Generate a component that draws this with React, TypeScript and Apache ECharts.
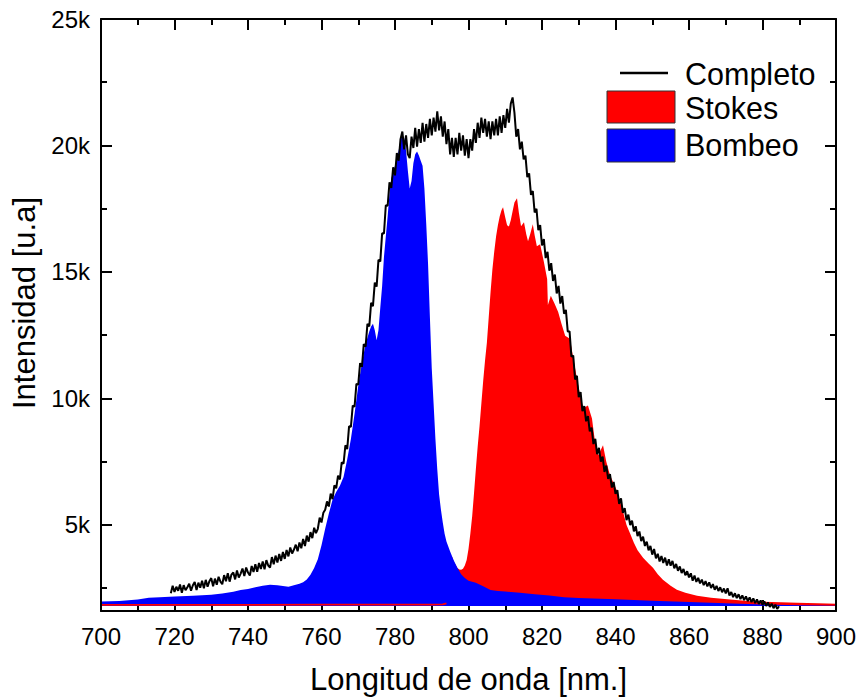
import React, { useEffect, useRef } from "react";
import * as echarts from "echarts";

// ---- Data ----
// Completo: black noisy spectrum, sampled every 0.5 nm starting at 719 nm
const completoStart = 719;
const completoStep = 0.5;
const completoValues = [
  // 719 - 728.5
  2300, 2600, 2350, 2560, 2400, 2650, 2320, 2620, 2420, 2540, 2680, 2400, 2620, 2750, 2430, 2720, 2520, 2800, 2500, 2830,
  // 729 - 738.5
  2560, 2780, 2900, 2580, 2880, 2640, 2950, 2760, 2660, 3020, 2780, 3090, 2760, 3040, 3120, 2850, 3200, 2920, 3080, 3280,
  // 739 - 748.5
  2980, 3320, 3120, 3000, 3380, 3140, 3450, 3150, 3500, 3260, 3560, 3250, 3610, 3400, 3320, 3730, 3450, 3790, 3520, 3850,
  // 749 - 758.5
  3580, 3930, 3660, 4010, 3760, 4110, 3870, 4030, 4220, 3960, 4310, 4080, 4450, 4170, 4580, 4340, 4720, 4480, 4890, 4680,
  // 759 - 768.5
  4850, 5290, 5100, 5480, 5600, 5930, 5730, 6240, 6020, 6570, 6450, 6950, 6800, 7480, 7420, 8150, 8000, 8900, 8880, 9720,
  // 769 - 778.5
  9680, 10580, 10550, 11400, 11250, 12150, 12050, 12950, 12850, 13780, 13650, 14580, 14420, 15480, 15420, 16530, 16520, 17640, 17620, 18540,
  // 779 - 788.5
  18320, 19140, 18820, 19700, 19400, 20250, 20550, 19850, 20400, 19650, 19500, 20350, 19900, 20700, 19950, 20650, 20100, 20900, 20150, 20850,
  // 789 - 798.5
  20300, 21050, 20400, 21100, 20550, 21350, 20600, 21150, 20350, 20950, 20050, 20650, 19650, 20300, 19550, 20300, 19650, 20500, 19800, 20400,
  // 799 - 808.5
  19600, 20250, 19500, 20250, 19800, 20650, 20100, 20900, 20300, 21100, 20500, 21050, 20350, 20950, 20250, 20950, 20400, 21050, 20400, 21150,
  // 809 - 818.5
  20500, 21200, 20700, 21450, 20900, 21650, 21900, 21300, 20350, 20650, 19850, 20150, 19450, 19600, 18750, 18900, 18050, 18200, 17350, 17500,
  // 819 - 828.5
  16650, 16850, 16050, 16300, 15550, 15800, 15050, 15350, 14650, 14900, 14150, 14450, 13750, 14050, 13350, 13500, 12650, 12650, 11650, 11700,
  // 829 - 838.5
  10750, 10900, 10050, 10250, 9500, 9700, 9100, 9300, 8700, 8850, 8200, 8400, 7800, 8050, 7500, 7700, 7100, 7350, 6820, 7010,
  // 839 - 848.5
  6480, 6700, 6230, 6380, 5830, 6050, 5480, 5670, 5190, 5410, 5000, 5170, 4750, 4950, 4560, 4740, 4360, 4540, 4170, 4340,
  // 849 - 858.5
  4000, 4170, 3830, 4050, 3680, 3860, 3560, 3770, 3500, 3710, 3400, 3640, 3390, 3580, 3290, 3460, 3190, 3360, 3100, 3260,
  // 859 - 868.5
  3010, 3170, 2930, 3090, 2800, 3000, 2750, 2910, 2690, 2840, 2620, 2780, 2570, 2730, 2510, 2660, 2440, 2590, 2390, 2540,
  // 869 - 878.5
  2340, 2490, 2300, 2500, 2210, 2350, 2150, 2300, 2110, 2260, 2070, 2220, 2030, 2180, 1990, 2140, 1950, 2100, 1910, 2060,
  // 879 - 884.5
  1880, 2020, 1840, 1980, 1800, 1940, 1760, 1890, 1710, 1850, 1680, 1790,
];

// Bombeo: blue filled spectrum
const bombeoNm = [
  700, 705, 710, 713, 716, 720, 725, 730, 733, 736, 738, 740, 742, 744, 746, 748, 750, 751, 752, 754,
  755, 756, 757, 758, 759, 760, 761, 762, 763, 764, 765, 766, 767, 768, 769, 770, 771, 772, 773, 773.5,
  774, 774.5, 775, 775.5, 776, 776.5, 777, 778, 778.6, 779, 780, 780.5, 781, 781.5, 782, 782.5, 783, 783.5, 784, 784.5,
  785, 785.5, 786, 786.5, 787, 787.5, 788, 788.5, 789, 789.5, 790, 790.5, 791, 791.5, 792, 792.5, 793, 793.5, 794, 795,
  796, 797, 798, 799, 800, 802, 804, 806, 808, 810, 814, 818, 822, 826, 830, 840, 850, 860, 870, 880,
  890, 900,
];
const bombeoValues = [
  1980, 2000, 2050, 2120, 2140, 2170, 2200, 2240, 2290, 2360, 2430, 2470, 2540, 2600, 2640, 2620, 2580, 2560, 2600, 2680,
  2740, 2850, 3030, 3300, 3650, 4200, 4850, 5450, 6000, 6300, 6550, 6900, 7600, 8400, 9400, 10500, 11400, 12150, 12650, 12850,
  12950, 12700, 12300, 12700, 13600, 14450, 15600, 17200, 18270, 18700, 19200, 19450, 19800, 20200, 20430, 20300, 19800, 19000, 18300, 18600,
  19300, 19650, 19760, 19600, 19400, 19200, 18300, 16900, 15300, 13200, 11200, 9800, 8400, 7200, 6200, 5600, 5100, 4650, 4350, 3950,
  3600, 3300, 3050, 2900, 2800, 2720, 2580, 2430, 2390, 2370, 2320, 2260, 2210, 2140, 2110, 2060, 2010, 1960, 1910, 1860,
  1830, 1810,
];

// Stokes: red filled spectrum
const stokesNm = [
  700, 720, 740, 760, 780, 790, 793, 794, 795, 795.5, 796, 797, 797.5, 798, 798.5, 799, 799.5, 800, 800.5, 801,
  801.5, 802, 802.5, 803, 803.5, 804, 804.5, 805, 805.5, 806, 806.5, 807, 807.5, 808, 808.5, 809, 809.4, 810, 810.5, 811,
  811.5, 812, 812.5, 813.2, 813.7, 814.3, 815.1, 815.7, 816.2, 816.8, 817.5, 818, 818.6, 819.5, 820.5, 821.4, 821.6, 822.4, 823.4, 824.4,
  825.3, 826.3, 827.6, 828.5, 829.5, 830.3, 831.2, 832.5, 833.6, 834.4, 835.3, 836.6, 837.5, 838.5, 839.5, 840.4, 841.2, 842, 843, 844,
  845, 846, 847.5, 849, 850.2, 851.5, 852.9, 855, 856.7, 859, 862.2, 866, 871.2, 876, 880.2, 885, 889.4, 895, 900,
];
const stokesValues = [
  1840, 1845, 1845, 1850, 1850, 1850, 1860, 1900, 3300, 3750, 3550, 3300, 3240, 3230, 3270, 3400, 3620, 4050, 4650, 5350,
  6250, 7200, 8100, 8900, 9800, 10700, 11500, 12200, 13200, 14200, 15100, 15800, 16400, 16850, 17200, 17450, 17560, 17150, 16850, 16800,
  17050, 17400, 17750, 17910, 17350, 16810, 16970, 16500, 16220, 16500, 16890, 16450, 16020, 16100, 15400, 14720, 13700, 14060, 13750, 13420,
  12950, 12480, 12360, 11600, 10790, 10200, 9610, 9720, 9210, 8310, 7760, 8150, 7500, 6970, 6650, 6340, 5950, 5550, 5000, 4650,
  4300, 4000, 3700, 3480, 3310, 3050, 2840, 2600, 2440, 2320, 2200, 2120, 2050, 2000, 1970, 1950, 1930, 1910, 1890,
];
const stokesBaseEnd = 794; // where the Stokes trace is only a baseline line

// Axes
const xMin = 700;
const xMax = 900;
const xInterval = 20;
const yMin = 1600;
const yMax = 25000;
const yMajorTicks = [5000, 10000, 15000, 20000, 25000];
const yMinorTicks = [2500, 7500, 12500, 17500, 22500];
const fillBase = 1800;

const FONT = "'Liberation Sans', Arial, Helvetica, sans-serif";

export default function App() {
  const ref = useRef<HTMLDivElement>(null);

  useEffect(() => {
    if (!ref.current) return;
    const chart = echarts.init(ref.current, null, { renderer: "svg" });

    const completo = completoValues.map((v, i) => [completoStart + i * completoStep, v]);
    const bombeo = bombeoNm.map((x, i) => [x, bombeoValues[i]]);
    const stokes = stokesNm.map((x, i) => [x, stokesValues[i]]);
    const stokesBase = stokes.filter((p) => p[0] <= stokesBaseEnd);

    const blackLine = { color: "#000", width: 2 };
    const xCommon = {
      type: "value",
      min: xMin,
      max: xMax,
      interval: xInterval,
      axisLine: { show: true, onZero: false, lineStyle: blackLine },
      axisTick: { show: true, inside: true, length: 11, lineStyle: blackLine },
      minorTick: { show: true, splitNumber: 2, length: 6, lineStyle: blackLine },
      splitLine: { show: false },
      minorSplitLine: { show: false },
    };
    const yCommon = {
      type: "value",
      min: yMin,
      max: yMax,
      splitLine: { show: false },
      z: 10,
    };

    chart.setOption({
      animation: false,
      backgroundColor: "#fff",
      grid: { left: 101, right: 24, top: 19, bottom: 87 },
      xAxis: [
        {
          ...xCommon,
          position: "bottom",
          axisLabel: { color: "#000", fontSize: 24, fontFamily: FONT, margin: 13 },
          name: "Longitud de onda [nm.]",
          nameLocation: "middle",
          nameGap: 53,
          nameTextStyle: { color: "#000", fontSize: 31, fontFamily: FONT },
        },
        {
          ...xCommon,
          position: "top",
          axisLabel: { show: false },
        },
      ],
      yAxis: [
        {
          ...yCommon,
          position: "left",
          axisLine: { show: true, onZero: false, lineStyle: blackLine },
          axisTick: { show: true, inside: true, length: 11, lineStyle: blackLine, customValues: yMajorTicks },
          axisLabel: {
            color: "#000",
            fontSize: 24,
            fontFamily: FONT,
            margin: 11,
            customValues: yMajorTicks,
            formatter: (v: number) => `${v / 1000}k`,
          },
          name: "Intensidad [u.a]",
          nameLocation: "middle",
          nameRotate: 90,
          nameGap: 60,
          nameTextStyle: { color: "#000", fontSize: 31, fontFamily: FONT, padding: [0, 0, 0, 24] },
        },
        {
          ...yCommon,
          position: "left",
          axisLine: { show: false },
          axisTick: { show: true, inside: true, length: 6, lineStyle: blackLine, customValues: yMinorTicks },
          axisLabel: { show: false },
        },
        {
          ...yCommon,
          position: "right",
          axisLine: { show: true, onZero: false, lineStyle: blackLine },
          axisTick: { show: true, inside: true, length: 11, lineStyle: blackLine, customValues: yMajorTicks },
          axisLabel: { show: false },
        },
        {
          ...yCommon,
          position: "right",
          axisLine: { show: false },
          axisTick: { show: true, inside: true, length: 6, lineStyle: blackLine, customValues: yMinorTicks },
          axisLabel: { show: false },
        },
      ],
      series: [
        {
          name: "Stokes",
          type: "line",
          data: stokes,
          symbol: "none",
          lineStyle: { width: 0, color: "#ff0000" },
          areaStyle: { color: "#ff0000", opacity: 1, origin: fillBase },
          z: 2,
        },
        {
          name: "Bombeo",
          type: "line",
          data: bombeo,
          symbol: "none",
          lineStyle: { width: 0, color: "#0000ff" },
          areaStyle: { color: "#0000ff", opacity: 1, origin: fillBase },
          z: 3,
        },
        {
          name: "Stokes",
          type: "line",
          data: stokesBase,
          symbol: "none",
          lineStyle: { width: 1.8, color: "#ff0000" },
          z: 4,
        },
        {
          name: "Completo",
          type: "line",
          data: completo,
          symbol: "none",
          lineStyle: { width: 2, color: "#000" },
          z: 5,
        },
      ],
      graphic: [
        {
          type: "line",
          shape: { x1: 620, y1: 73, x2: 668, y2: 73 },
          style: { stroke: "#000", lineWidth: 2.5 },
          z: 20,
        },
        {
          type: "text",
          x: 685,
          y: 74,
          style: { text: "Completo", fontSize: 30.5, fontFamily: FONT, fill: "#000", verticalAlign: "middle" },
          z: 20,
        },
        {
          type: "rect",
          shape: { x: 607, y: 91, width: 68, height: 32 },
          style: { fill: "#ff0000", stroke: "#333", lineWidth: 1 },
          z: 20,
        },
        {
          type: "text",
          x: 685,
          y: 108,
          style: { text: "Stokes", fontSize: 30.5, fontFamily: FONT, fill: "#000", verticalAlign: "middle" },
          z: 20,
        },
        {
          type: "rect",
          shape: { x: 607, y: 129, width: 68, height: 33 },
          style: { fill: "#0000ff", stroke: "#333", lineWidth: 1 },
          z: 20,
        },
        {
          type: "text",
          x: 685,
          y: 145,
          style: { text: "Bombeo", fontSize: 30.5, fontFamily: FONT, fill: "#000", verticalAlign: "middle" },
          z: 20,
        },
      ],
    });

    return () => {
      chart.dispose();
    };
  }, []);

  return (
    <div
      ref={ref}
      style={{ position: "absolute", left: 0, top: 0, width: 860, height: 700, background: "#fff" }}
    />
  );
}
